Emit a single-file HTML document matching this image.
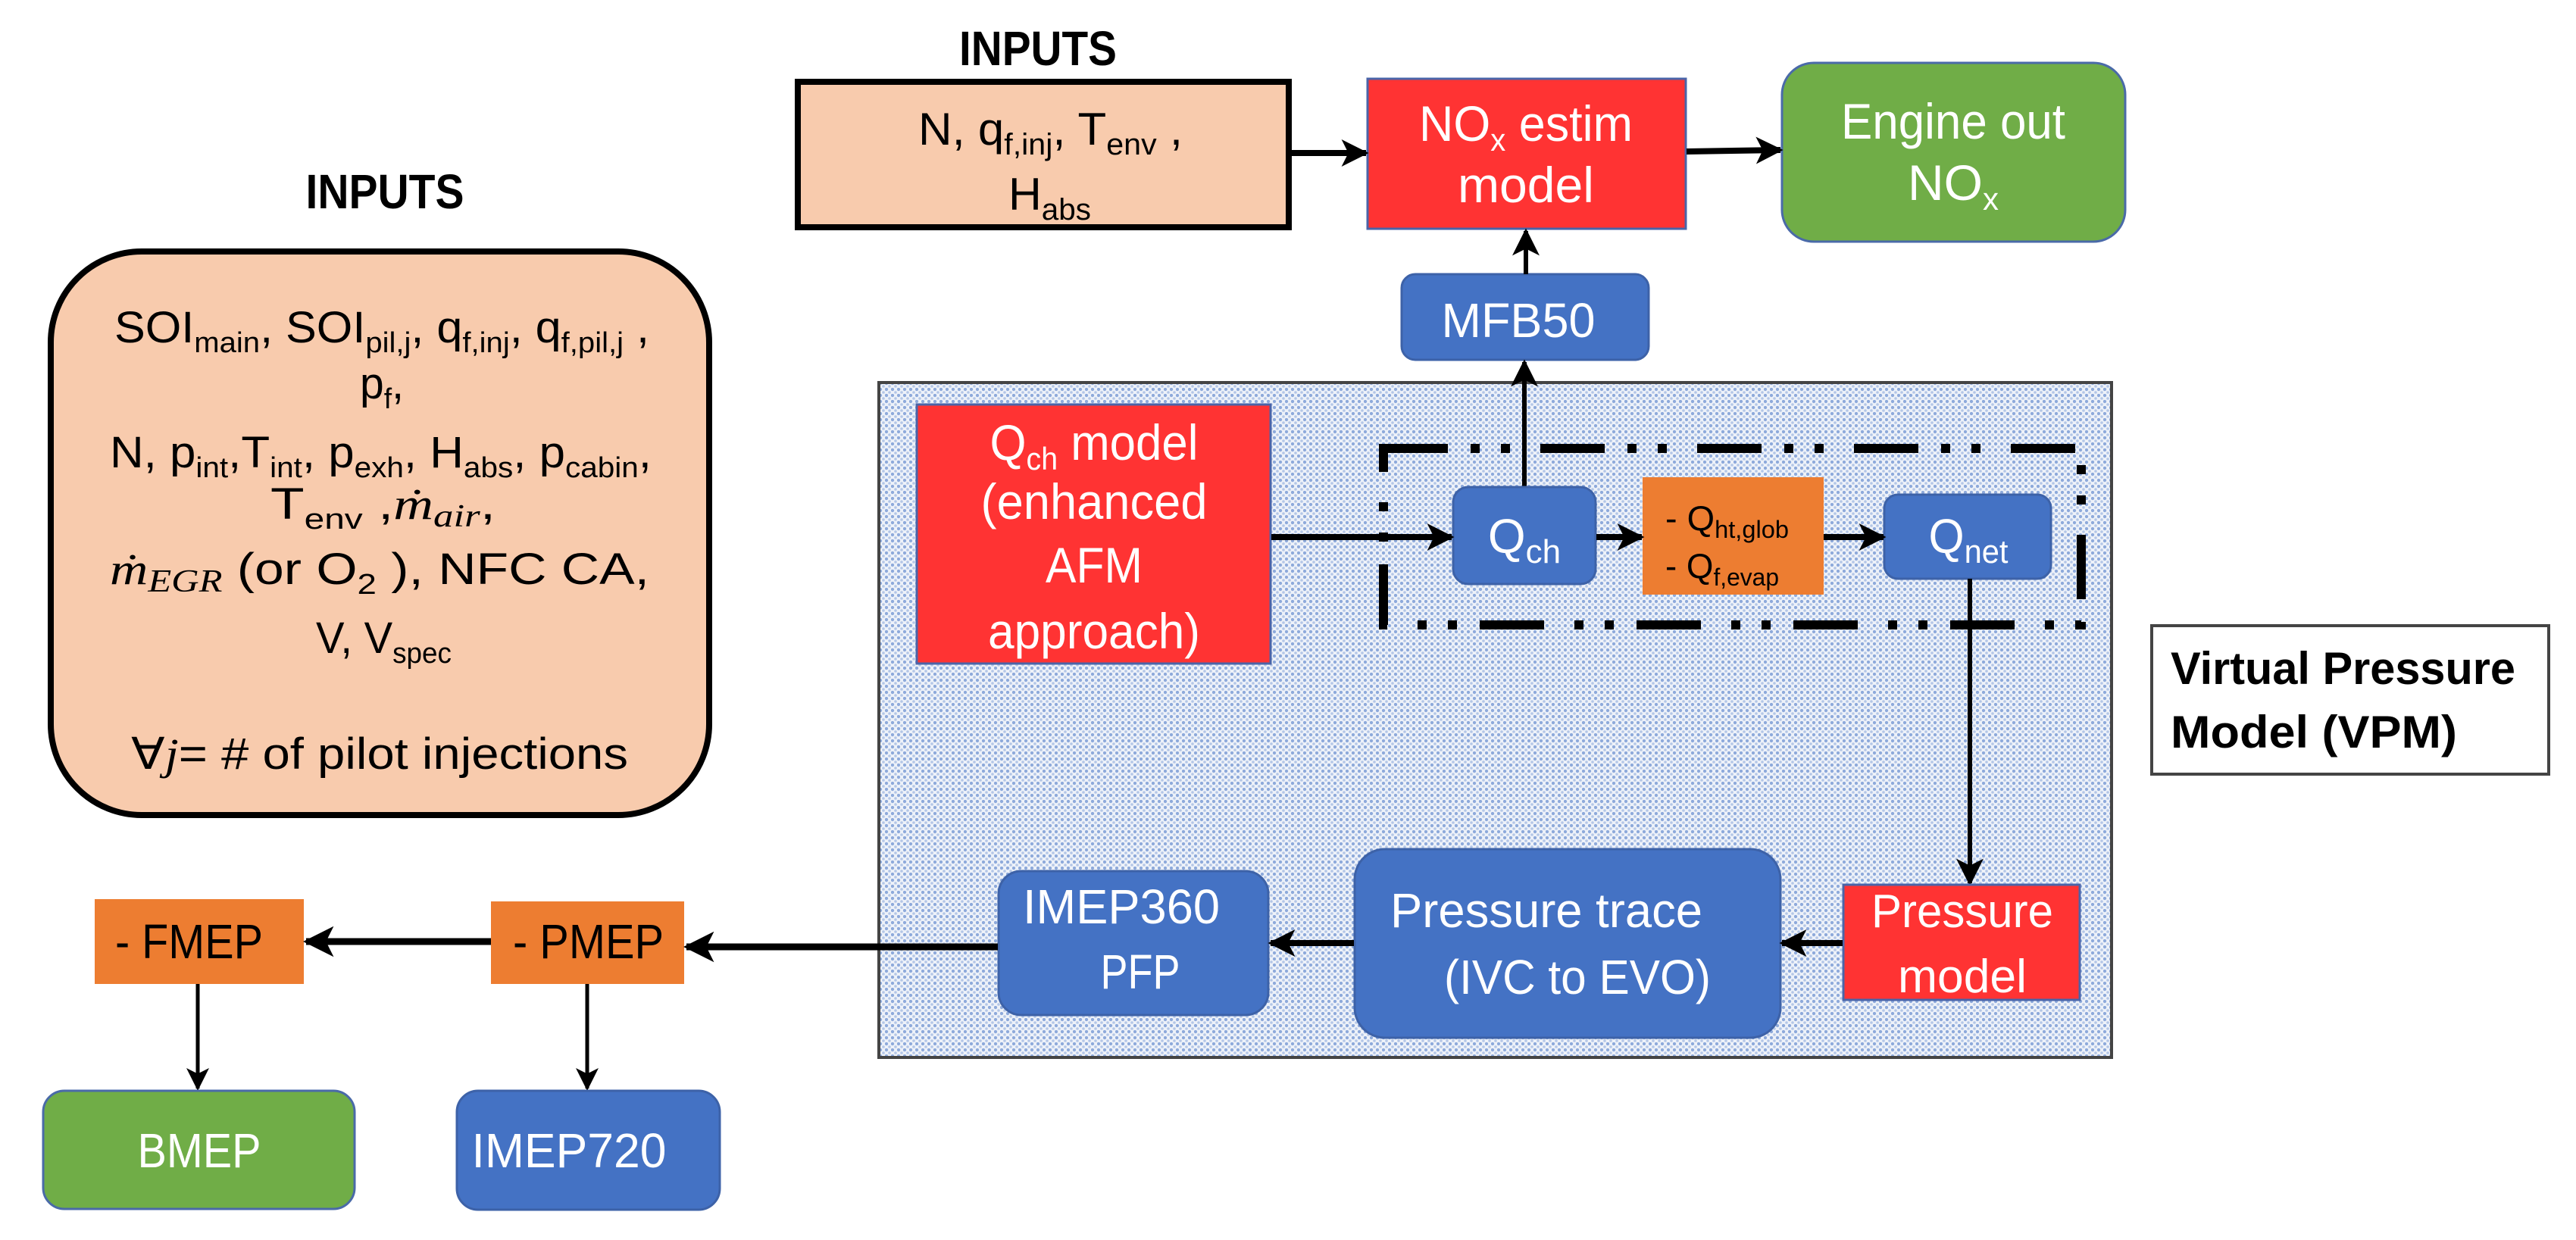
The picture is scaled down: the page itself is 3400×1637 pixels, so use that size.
<!DOCTYPE html>
<html><head><meta charset="utf-8"><style>
html,body{margin:0;padding:0;background:#fff}
svg{display:block}
text{font-family:"Liberation Sans Narrow","Liberation Sans",sans-serif}
</style></head><body>
<svg width="3400" height="1637" viewBox="0 0 3400 1637" xmlns="http://www.w3.org/2000/svg">
<defs>
<pattern id="dots" width="8" height="8" patternUnits="userSpaceOnUse">
<rect width="8" height="8" fill="#eef2f9"/>
<circle cx="2" cy="2" r="2.2" fill="#8eaadb"/>
<circle cx="6" cy="6" r="1.8" fill="#b3c6e7"/>
</pattern>
<marker id="ah" viewBox="0 0 10 10" refX="9" refY="5" markerWidth="4.5" markerHeight="4.5" orient="auto" markerUnits="strokeWidth">
<path d="M0,0 L10,5 L0,10 L2.5,5 z" fill="#000"/>
</marker>
<marker id="ah2" viewBox="0 0 10 10" refX="9" refY="5" markerWidth="6" markerHeight="7" orient="auto" markerUnits="strokeWidth">
<path d="M0,0 L10,5 L0,10 L2.5,5 z" fill="#000"/>
</marker>
</defs>

<rect x="1160" y="505" width="1627" height="891" fill="url(#dots)" stroke="#444" stroke-width="4"/>

<text x="1370" y="86" font-size="64" font-weight="bold" text-anchor="middle" textLength="208" lengthAdjust="spacingAndGlyphs">INPUTS</text>
<text x="508" y="275" font-size="64" font-weight="bold" text-anchor="middle" textLength="209" lengthAdjust="spacingAndGlyphs">INPUTS</text>

<rect x="1053" y="108" width="648" height="192" fill="#f8cbad" stroke="#000" stroke-width="8"/>
<text x="1212" y="191" font-size="60" textLength="349" lengthAdjust="spacingAndGlyphs">N, q<tspan font-size="40" dy="13">f,inj</tspan><tspan dy="-13">, T</tspan><tspan font-size="40" dy="13">env</tspan><tspan dy="-13"> ,</tspan></text>
<text x="1331" y="277" font-size="60" textLength="109" lengthAdjust="spacingAndGlyphs">H<tspan font-size="40" dy="13">abs</tspan></text>

<rect x="67" y="332" width="869" height="744" rx="120" ry="120" fill="#f8cbad" stroke="#000" stroke-width="8"/>
<g font-size="58">
<text x="151" y="452" textLength="706" lengthAdjust="spacingAndGlyphs">SOI<tspan font-size="38" dy="13">main</tspan><tspan dy="-13">, SOI</tspan><tspan font-size="38" dy="13">pil,j</tspan><tspan dy="-13">, q</tspan><tspan font-size="38" dy="13">f,inj</tspan><tspan dy="-13">, q</tspan><tspan font-size="38" dy="13">f,pil,j</tspan><tspan dy="-13"> ,</tspan></text>
<text x="475" y="526" textLength="58" lengthAdjust="spacingAndGlyphs">p<tspan font-size="38" dy="13">f</tspan><tspan dy="-13">,</tspan></text>
<text x="145" y="617" textLength="715" lengthAdjust="spacingAndGlyphs">N, p<tspan font-size="38" dy="13">int</tspan><tspan dy="-13">,T</tspan><tspan font-size="38" dy="13">int</tspan><tspan dy="-13">, p</tspan><tspan font-size="38" dy="13">exh</tspan><tspan dy="-13">, H</tspan><tspan font-size="38" dy="13">abs</tspan><tspan dy="-13">, p</tspan><tspan font-size="38" dy="13">cabin</tspan><tspan dy="-13">,</tspan></text>
<text x="357" y="685" textLength="297" lengthAdjust="spacingAndGlyphs">T<tspan font-size="38" dy="13">env</tspan><tspan dy="-13">  ,</tspan><tspan font-family="Liberation Serif,serif" font-style="italic">ṁ</tspan><tspan font-family="Liberation Serif,serif" font-style="italic" font-size="42" dy="10">air</tspan><tspan dy="-10">,</tspan></text>
<text x="145" y="771" textLength="712" lengthAdjust="spacingAndGlyphs"><tspan font-family="Liberation Serif,serif" font-style="italic">ṁ</tspan><tspan font-family="Liberation Serif,serif" font-style="italic" font-size="42" dy="10">EGR</tspan><tspan dy="-10"> (or  O</tspan><tspan font-size="38" dy="13">2</tspan><tspan dy="-13">  ), NFC  CA,</tspan></text>
<text x="417" y="862" textLength="179" lengthAdjust="spacingAndGlyphs">V, V<tspan font-size="38" dy="13">spec</tspan></text>
<text x="173" y="1015" textLength="656" lengthAdjust="spacingAndGlyphs">∀<tspan font-family="Liberation Serif,serif" font-style="italic">j</tspan>= # of pilot injections</text>
</g>

<rect x="1805" y="104" width="420" height="198" fill="#ff3333" stroke="#4a64a8" stroke-width="3"/>
<text x="2014" y="186" font-size="66" fill="#fff" text-anchor="middle" textLength="282" lengthAdjust="spacingAndGlyphs">NO<tspan font-size="42" dy="13">x</tspan><tspan dy="-13"> estim</tspan></text>
<text x="2014" y="267" font-size="66" fill="#fff" text-anchor="middle" textLength="180" lengthAdjust="spacingAndGlyphs">model</text>

<rect x="2352" y="83" width="453" height="236" rx="42" fill="#70ad47" stroke="#4a6aa8" stroke-width="3"/>
<text x="2578" y="183" font-size="66" fill="#fff" text-anchor="middle" textLength="296" lengthAdjust="spacingAndGlyphs">Engine out</text>
<text x="2578" y="264" font-size="66" fill="#fff" text-anchor="middle">NO<tspan font-size="42" dy="13">x</tspan></text>

<rect x="1850" y="362" width="326" height="113" rx="18" fill="#4472c4" stroke="#3d62a8" stroke-width="3"/>
<text x="2004" y="445" font-size="64" fill="#fff" text-anchor="middle" textLength="203" lengthAdjust="spacingAndGlyphs">MFB50</text>

<line x1="1703" y1="202" x2="1803" y2="202" stroke="#000" stroke-width="8" marker-end="url(#ah)"/>
<line x1="2226" y1="200" x2="2350" y2="198" stroke="#000" stroke-width="8" marker-end="url(#ah)"/>
<line x1="2014" y1="362" x2="2014" y2="305" stroke="#000" stroke-width="6" marker-end="url(#ah2)"/>
<line x1="2012" y1="643" x2="2012" y2="478" stroke="#000" stroke-width="6" marker-end="url(#ah2)"/>

<rect x="1826" y="592" width="921" height="233" fill="none" stroke="#000" stroke-width="12" stroke-dasharray="85 30 12 28 12 40"/>

<rect x="1210" y="534" width="467" height="342" fill="#ff3333" stroke="#4a64a8" stroke-width="3"/>
<g font-size="66" fill="#fff" text-anchor="middle">
<text x="1444" y="607" textLength="275" lengthAdjust="spacingAndGlyphs">Q<tspan font-size="42" dy="13">ch</tspan><tspan dy="-13"> model</tspan></text>
<text x="1444" y="685" textLength="299" lengthAdjust="spacingAndGlyphs">(enhanced</text>
<text x="1444" y="769" textLength="128" lengthAdjust="spacingAndGlyphs">AFM</text>
<text x="1444" y="856" textLength="280" lengthAdjust="spacingAndGlyphs">approach)</text>
</g>

<rect x="1918" y="643" width="188" height="128" rx="20" fill="#4472c4" stroke="#3d62a8" stroke-width="3"/>
<text x="2012" y="730" font-size="64" fill="#fff" text-anchor="middle">Q<tspan font-size="44" dy="13">ch</tspan></text>

<rect x="2168" y="630" width="239" height="155" fill="#ed7d31"/>
<text x="2198" y="700" font-size="46" textLength="163" lengthAdjust="spacingAndGlyphs">- Q<tspan font-size="32" dy="10">ht,glob</tspan></text>
<text x="2198" y="763" font-size="46" textLength="150" lengthAdjust="spacingAndGlyphs">- Q<tspan font-size="32" dy="10">f,evap</tspan></text>

<rect x="2487" y="653" width="220" height="111" rx="18" fill="#4472c4" stroke="#3d62a8" stroke-width="3"/>
<text x="2598" y="730" font-size="64" fill="#fff" text-anchor="middle" textLength="105" lengthAdjust="spacingAndGlyphs">Q<tspan font-size="44" dy="13">net</tspan></text>

<line x1="1678" y1="709" x2="1916" y2="709" stroke="#000" stroke-width="8" marker-end="url(#ah)"/>
<line x1="2107" y1="709" x2="2167" y2="709" stroke="#000" stroke-width="8" marker-end="url(#ah)"/>
<line x1="2407" y1="709" x2="2486" y2="709" stroke="#000" stroke-width="8" marker-end="url(#ah)"/>
<line x1="2600" y1="764" x2="2600" y2="1166" stroke="#000" stroke-width="6" marker-end="url(#ah2)"/>

<rect x="2433" y="1168" width="312" height="152" fill="#ff3333" stroke="#4a64a8" stroke-width="3"/>
<text x="2590" y="1224" font-size="62" fill="#fff" text-anchor="middle" textLength="240" lengthAdjust="spacingAndGlyphs">Pressure</text>
<text x="2590" y="1310" font-size="62" fill="#fff" text-anchor="middle" textLength="170" lengthAdjust="spacingAndGlyphs">model</text>

<rect x="1788" y="1121" width="562" height="249" rx="40" fill="#4472c4" stroke="#3d62a8" stroke-width="3"/>
<text x="1835" y="1224" font-size="64" fill="#fff" textLength="412" lengthAdjust="spacingAndGlyphs">Pressure trace</text>
<text x="1906" y="1312" font-size="64" fill="#fff" textLength="352" lengthAdjust="spacingAndGlyphs">(IVC to EVO)</text>
<line x1="2432" y1="1245" x2="2352" y2="1245" stroke="#000" stroke-width="8" marker-end="url(#ah)"/>

<rect x="1318" y="1150" width="356" height="190" rx="30" fill="#4472c4" stroke="#3d62a8" stroke-width="3"/>
<text x="1480" y="1219" font-size="64" fill="#fff" text-anchor="middle" textLength="260" lengthAdjust="spacingAndGlyphs">IMEP360</text>
<text x="1505" y="1305" font-size="64" fill="#fff" text-anchor="middle" textLength="105" lengthAdjust="spacingAndGlyphs">PFP</text>
<line x1="1787" y1="1245" x2="1677" y2="1245" stroke="#000" stroke-width="8" marker-end="url(#ah)"/>

<rect x="2840" y="826" width="524" height="196" fill="#fff" stroke="#444" stroke-width="4"/>
<text x="2865" y="903" font-size="60" font-weight="bold" textLength="455" lengthAdjust="spacingAndGlyphs">Virtual Pressure</text>
<text x="2865" y="987" font-size="60" font-weight="bold" textLength="378" lengthAdjust="spacingAndGlyphs">Model (VPM)</text>

<rect x="648" y="1190" width="255" height="109" fill="#ed7d31"/>
<text x="677" y="1265" font-size="64" textLength="199" lengthAdjust="spacingAndGlyphs">- PMEP</text>
<rect x="125" y="1187" width="276" height="112" fill="#ed7d31"/>
<text x="152" y="1265" font-size="64" textLength="195" lengthAdjust="spacingAndGlyphs">- FMEP</text>
<line x1="1317" y1="1250" x2="906" y2="1250" stroke="#000" stroke-width="9" marker-end="url(#ah)"/>
<line x1="648" y1="1243" x2="404" y2="1243" stroke="#000" stroke-width="9" marker-end="url(#ah)"/>
<line x1="261" y1="1299" x2="261" y2="1437" stroke="#000" stroke-width="5" marker-end="url(#ah2)"/>
<line x1="775" y1="1299" x2="775" y2="1437" stroke="#000" stroke-width="5" marker-end="url(#ah2)"/>

<rect x="57" y="1440" width="411" height="156" rx="28" fill="#70ad47" stroke="#4a6aa8" stroke-width="3"/>
<text x="263" y="1541" font-size="64" fill="#fff" text-anchor="middle" textLength="163" lengthAdjust="spacingAndGlyphs">BMEP</text>
<rect x="603" y="1440" width="347" height="157" rx="28" fill="#4472c4" stroke="#3d62a8" stroke-width="3"/>
<text x="751" y="1541" font-size="64" fill="#fff" text-anchor="middle" textLength="257" lengthAdjust="spacingAndGlyphs">IMEP720</text>
</svg>
</body></html>
